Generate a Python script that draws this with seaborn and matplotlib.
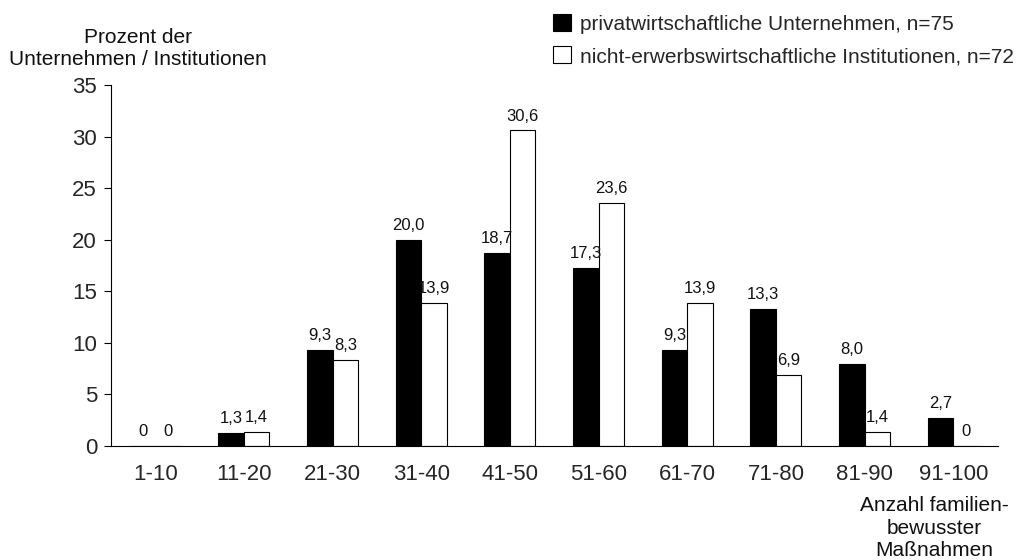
import matplotlib
matplotlib.use("Agg")
import matplotlib.pyplot as plt
import seaborn as sns
import pandas as pd
import numpy as np
from matplotlib.patches import Patch

sns.set_theme(style="white")
plt.rcParams["font.family"] = ["Liberation Sans", "DejaVu Sans"]

categories = ["1-10", "11-20", "21-30", "31-40", "41-50",
              "51-60", "61-70", "71-80", "81-90", "91-100"]
privat = [0, 1.3, 9.3, 20.0, 18.7, 17.3, 9.3, 13.3, 8.0, 2.7]
nicht_erwerb = [0, 1.4, 8.3, 13.9, 30.6, 23.6, 13.9, 6.9, 1.4, 0]
series_names = ["privatwirtschaftliche Unternehmen, n=75",
                "nicht-erwerbswirtschaftliche Institutionen, n=72"]
y_ticks = [0, 5, 10, 15, 20, 25, 30, 35]

df = pd.DataFrame({
    "Kategorie": categories * 2,
    "Prozent": privat + nicht_erwerb,
    "Gruppe": [series_names[0]] * len(categories) + [series_names[1]] * len(categories),
})

fig = plt.figure(figsize=(10.18, 5.6), dpi=100)
ax = fig.add_axes([0.109, 0.2036, 0.871, 0.6444])

palette = {series_names[0]: "black", series_names[1]: "white"}
sns.barplot(data=df, x="Kategorie", y="Prozent", hue="Gruppe", order=categories,
            hue_order=series_names, palette=palette, width=0.575, gap=0,
            edgecolor="black", linewidth=0.8, saturation=1, legend=False, ax=ax)

def fmt(v):
    return "0" if v == 0 else f"{v:.1f}".replace(".", ",")

for container, values in zip(ax.containers, [privat, nicht_erwerb]):
    labels = [fmt(v) for v in values]
    ax.bar_label(container, labels=labels, padding=5, fontsize=12, color="#111111")

ax.set_xlim(-0.5, len(categories) - 0.5)
ax.set_ylim(0, 35)
ax.set_yticks(y_ticks)
ax.set_yticklabels([str(t) for t in y_ticks], fontsize=16)

# category boundaries carry the tick marks, names sit between them
ax.set_xticks(np.arange(-0.5, len(categories), 1.0))
ax.set_xticklabels([])
ax.set_xticks(np.arange(len(categories)), minor=True)
ax.set_xticklabels(categories, minor=True, fontsize=16)
ax.tick_params(axis="x", which="major", direction="out", length=4, width=0.8, color="black")
ax.tick_params(axis="x", which="minor", length=0, pad=13)
ax.tick_params(axis="y", direction="out", length=5, width=0.8, color="black", pad=5, left=True)

for s in ["top", "right"]:
    ax.spines[s].set_visible(False)
for s in ["left", "bottom"]:
    ax.spines[s].set_color("black")
    ax.spines[s].set_linewidth(0.8)

ax.set_xlabel("")
ax.set_ylabel("")

fig.text(0.1356, 0.914, "Prozent der\nUnternehmen / Institutionen", ha="center", va="center",
         fontsize=15, linespacing=1.2, color="#111111")
fig.text(0.918, 0.057, "Anzahl familien-\nbewusster\nMaßnahmen", ha="center", va="center",
         fontsize=15, linespacing=1.22, color="#111111")

handles = [Patch(facecolor="black", edgecolor="black", linewidth=0.8),
           Patch(facecolor="white", edgecolor="black", linewidth=0.8)]
fig.legend(handles, series_names, loc="upper left", bbox_to_anchor=(0.543, 0.975),
           frameon=False, fontsize=15, handlelength=0.86, handleheight=0.86,
           handletextpad=0.45, labelspacing=0.62, borderpad=0, borderaxespad=0)

fig.savefig("out.png", dpi=100)
